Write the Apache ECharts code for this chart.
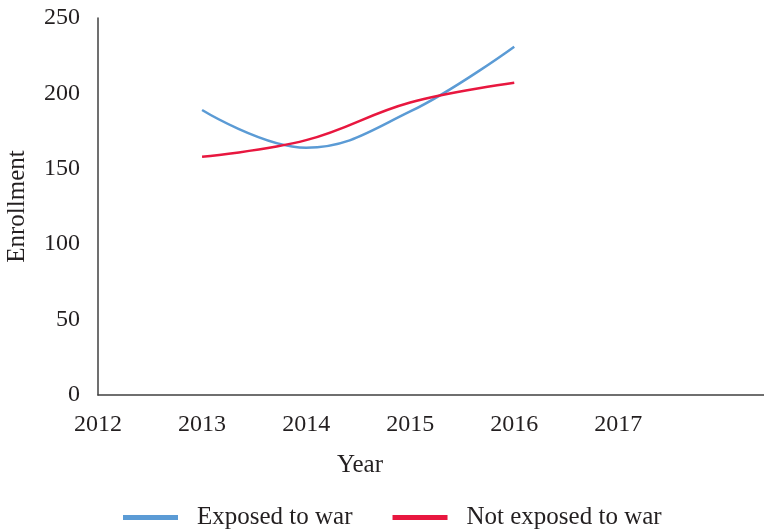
<!DOCTYPE html>
<html>
<head>
<meta charset="utf-8">
<script src="https://cdn.jsdelivr.net/npm/echarts@6/dist/echarts.min.js"></script>
<style>
  html, body { margin: 0; padding: 0; background: #fff; }
  #chart { width: 764px; height: 531px; }
</style>
</head>
<body>
<div id="chart"></div>
<script>
// values
var years = [2013, 2014, 2015, 2016];
var exposed = [189, 164, 188, 231];
var notExposed = [158, 169, 194, 207];
var yTicks = [0, 50, 100, 150, 200, 250];

var font = '"Liberation Serif", "DejaVu Serif", serif';
var axisColor = '#404040';

var chart = echarts.init(document.getElementById('chart'));

function pairs(xs, ys) {
  return xs.map(function (x, i) { return [x, ys[i]]; });
}

chart.setOption({
  animation: false,
  textStyle: { fontFamily: font, color: '#231f20' },
  grid: { left: 98, right: 0, top: 18, bottom: 136, containLabel: false, outerBoundsMode: 'none' },
  legend: {
    top: 500,
    left: 118,
    itemWidth: 55,
    itemHeight: 5,
    itemGap: 40,
    icon: 'rect',
    textStyle: { fontFamily: font, fontSize: 25, color: '#231f20', padding: [0, 0, 0, 14] },
    data: ['Exposed to war', 'Not exposed to war']
  },
  xAxis: {
    type: 'value',
    min: 2012,
    max: 2018.4,
    interval: 1,
    name: 'Year',
    nameLocation: 'middle',
    nameGap: 58,
    // the title sits left of the axis middle in the original
    nameTextStyle: { fontFamily: font, fontSize: 25, color: '#231f20', padding: [0, 142, 0, 0] },
    axisLine: { show: true, lineStyle: { color: axisColor, width: 1.5 } },
    axisTick: { show: false },
    splitLine: { show: false },
    axisLabel: {
      fontFamily: font, fontSize: 24, color: '#231f20', margin: 18,
      showMaxLabel: false,
      formatter: function (v) { return v > 2017 ? '' : String(v); }
    }
  },
  yAxis: {
    type: 'value',
    min: yTicks[0],
    max: yTicks[yTicks.length - 1],
    interval: 50,
    name: 'Enrollment',
    nameLocation: 'middle',
    nameGap: 68,
    nameTextStyle: { fontFamily: font, fontSize: 25, color: '#231f20' },
    axisLine: { show: true, lineStyle: { color: axisColor, width: 1.5 } },
    axisTick: { show: false },
    splitLine: { show: false },
    axisLabel: { fontFamily: font, fontSize: 24, color: '#231f20', margin: 18 }
  },
  series: [
    {
      name: 'Exposed to war',
      type: 'line',
      smooth: 0.4,
      showSymbol: false,
      color: '#5B9BD5',
      lineStyle: { width: 2.5 },
      data: pairs(years, exposed)
    },
    {
      name: 'Not exposed to war',
      type: 'line',
      smooth: 0.4,
      showSymbol: false,
      color: '#E8173F',
      lineStyle: { width: 2.5 },
      data: pairs(years, notExposed)
    }
  ]
});
</script>
</body>
</html>
